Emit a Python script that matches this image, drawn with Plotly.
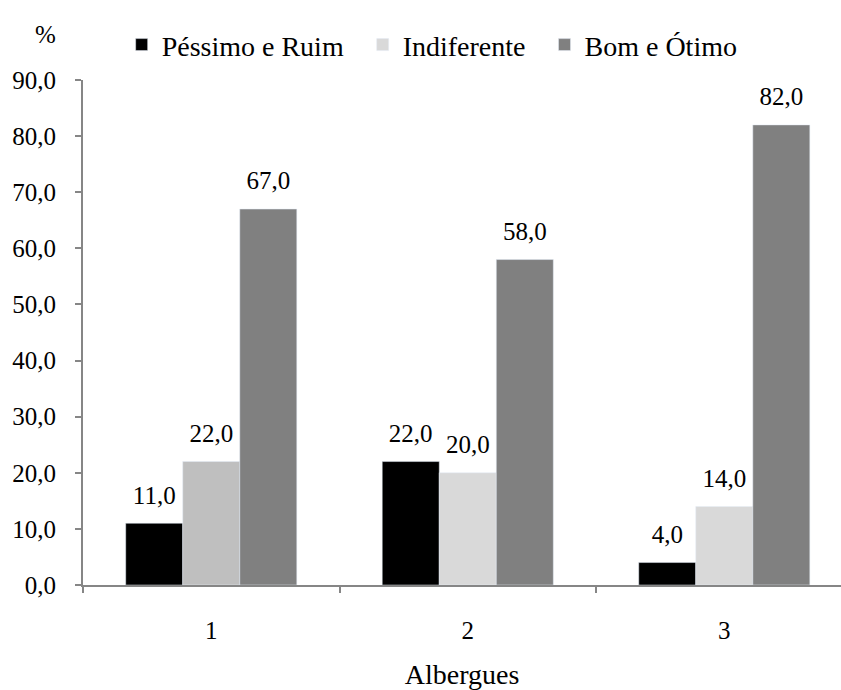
import plotly.graph_objects as go

# Survey results per hostel (Albergues), percentages by rating band
albergues = ["1", "2", "3"]
pessimo_ruim = [11.0, 22.0, 4.0]
indiferente = [22.0, 20.0, 14.0]
bom_otimo = [67.0, 58.0, 82.0]

series_names = ["Péssimo e Ruim", "Indiferente", "Bom e Ótimo"]
y_ticks = [0, 10, 20, 30, 40, 50, 60, 70, 80, 90]

FONT = "Liberation Serif, DejaVu Serif, serif"
AXIS_GRAY = "#868686"
FS = 25      # tick and value labels
FS_TXT = 28  # legend and axis title
PAD = "\u00a0\u00a0"  # extra spacing between legend entries

fig = go.Figure()

label_font = dict(family=FONT, size=FS, color="#000000")

fig.add_trace(go.Bar(
    x=albergues, y=pessimo_ruim, name=series_names[0] + PAD,
    marker=dict(color="#000000"), offsetgroup="a", hoverinfo="skip",
))
# first hostel's "Indiferente" bar is a slightly darker gray
fig.add_trace(go.Bar(
    x=albergues, y=indiferente, name=series_names[1], showlegend=False,
    marker=dict(color=["#bfbfbf", "#d9d9d9", "#d9d9d9"]), offsetgroup="b",
    hoverinfo="skip",
))
# legend entry for "Indiferente" in its main shade
fig.add_trace(go.Bar(
    x=[albergues[0]], y=[None], name=series_names[1] + PAD,
    marker=dict(color="#d9d9d9"), offsetgroup="b", hoverinfo="skip",
))
fig.add_trace(go.Bar(
    x=albergues, y=bom_otimo, name=series_names[2],
    marker=dict(color="#808080"), offsetgroup="c", hoverinfo="skip",
))

# value labels, grouped the same way as the bars and lifted above each bar top
for vals, grp in [(pessimo_ruim, "a"), (indiferente, "b"), (bom_otimo, "c")]:
    fig.add_trace(go.Scatter(
        x=albergues, y=vals, mode="markers+text", offsetgroup=grp,
        marker=dict(size=20, opacity=0),
        text=[f"{v:.1f}".replace(".", ",") for v in vals],
        textposition="top center", textfont=label_font,
        showlegend=False, hoverinfo="skip", cliponaxis=False,
    ))

fig.update_layout(
    width=841, height=690,
    margin=dict(l=83, r=0, t=80, b=105),
    paper_bgcolor="white", plot_bgcolor="white",
    separators=",.",
    barmode="group", bargap=0.333, bargroupgap=0,
    scattermode="group", scattergap=0.333,
    font=dict(family=FONT, size=FS, color="#000000"),
    showlegend=True,
    legend=dict(
        orientation="h", x=0.051, y=1.02, xanchor="left", yanchor="bottom",
        font=dict(family=FONT, size=FS_TXT), itemwidth=30,
        traceorder="normal", bgcolor="rgba(0,0,0,0)",
    ),
    annotations=[dict(
        text="%", xref="paper", yref="paper", x=-0.05, y=1.06,
        xanchor="center", yanchor="bottom", showarrow=False,
        font=dict(family=FONT, size=FS),
    )],
)

fig.update_xaxes(
    type="category", range=[-0.5, 2.455],
    showline=True, linecolor=AXIS_GRAY, linewidth=2,
    ticks="outside", tickson="boundaries", ticklen=6, tickwidth=2, tickcolor=AXIS_GRAY,
    ticklabelstandoff=22,
    title=dict(text="Albergues", font=dict(family=FONT, size=FS_TXT), standoff=22),
    showgrid=False, zeroline=False,
)
fig.update_yaxes(
    range=[0, 90], tickvals=y_ticks, tickformat=".1f",
    showline=True, linecolor=AXIS_GRAY, linewidth=2,
    ticks="outside", ticklen=6, tickwidth=2, tickcolor=AXIS_GRAY,
    ticklabelstandoff=14,
    showgrid=False, zeroline=False,
)

fig.write_html("out.html")
